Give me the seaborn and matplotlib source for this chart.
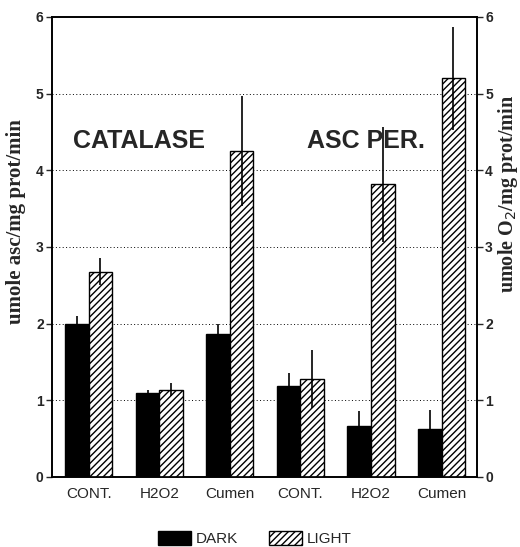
import numpy as np
import pandas as pd
import matplotlib
matplotlib.use("Agg")
import matplotlib.pyplot as plt
import seaborn as sns
from matplotlib.patches import Patch

treatments = ["CONT.", "H2O2", "Cumen", "CONT.", "H2O2", "Cumen"]
enzymes = ["CAT", "CAT", "CAT", "APX", "APX", "APX"]
dark = [2.0, 1.09, 1.86, 1.19, 0.66, 0.63]
dark_err = [0.10, 0.05, 0.13, 0.17, 0.20, 0.25]
light = [2.68, 1.14, 4.25, 1.28, 3.82, 5.20]
light_err = [0.18, 0.09, 0.72, 0.38, 0.75, 0.67]
conditions = ["DARK", "LIGHT"]
yticks = [0, 1, 2, 3, 4, 5, 6]

keys = [f"{e} {t}" for e, t in zip(enzymes, treatments)]
df = pd.DataFrame({
    "key": keys * 2,
    "cond": ["DARK"] * 6 + ["LIGHT"] * 6,
    "value": dark + light,
})

sns.set_style("white")
plt.rcParams["font.family"] = ["Liberation Sans", "DejaVu Sans"]

fig = plt.figure(figsize=(5.2, 5.47), dpi=100)
ax = fig.add_axes([0.1, 0.128, 0.817, 0.841])

sns.barplot(data=df, x="key", y="value", hue="cond", order=keys,
            hue_order=conditions, width=0.667, errorbar=None,
            palette=["black", "white"], edgecolor="black", linewidth=1.0,
            legend=False, ax=ax, zorder=3)

bar_groups = list(ax.containers[:2])
for bar in bar_groups[1]:
    bar.set_hatch("/////")
    bar.set_facecolor("white")

errs = [dark_err, light_err]
for i, cont in enumerate(bar_groups):
    xs = [b.get_x() + b.get_width() / 2 for b in cont]
    hs = [b.get_height() for b in cont]
    if i == 0:
        yerr = [np.zeros(len(hs)), errs[i]]
    else:
        yerr = errs[i]
    ax.errorbar(xs, hs, yerr=yerr, fmt="none", ecolor="black",
                elinewidth=1.2, capsize=0, zorder=4)

ax.set_xlim(-0.52, 5.5)
ax.set_ylim(0, 6)
ax.set_yticks(yticks)
ax.set_yticklabels([str(t) for t in yticks], fontweight="bold", fontsize=10)
ax.set_xticks(range(len(treatments)))
ax.set_xticklabels(treatments, fontsize=11)
ax.set_xlabel("")
ax.set_ylabel("")
ax.tick_params(axis="x", length=0, pad=7)
ax.tick_params(axis="y", direction="out", length=4, width=1, pad=2, left=True)

for t in [1, 2, 3, 4, 5]:
    ax.axhline(t, color="black", lw=0.7, ls=(0, (1, 2.5)), zorder=1)

for s in ax.spines.values():
    s.set_color("black")
    s.set_linewidth(1.2)

ax2 = ax.twinx()
ax2.set_ylim(0, 6)
ax2.set_yticks(yticks)
ax2.set_yticklabels([str(t) for t in yticks], fontweight="bold", fontsize=10)
ax2.tick_params(axis="y", direction="out", length=4, width=1, pad=2)
for s in ax2.spines.values():
    s.set_color("black")
    s.set_linewidth(1.2)

ax.text(-0.22, 4.38, "CATALASE", fontsize=18, fontweight="bold",
        ha="left", va="center", zorder=5)
ax.text(3.09, 4.38, "ASC PER.", fontsize=18, fontweight="bold",
        ha="left", va="center", zorder=5)

fig.text(0.03, 0.595, "umole asc/mg prot/min", rotation=90, ha="center",
         va="center", fontsize=15, fontweight="bold",
         family=["Liberation Serif", "DejaVu Serif"])
fig.text(0.976, 0.645, "umole O$_2$/mg prot/min", rotation=90, ha="center",
         va="center", fontsize=14.5, fontweight="bold",
         family=["Liberation Serif", "DejaVu Serif"])

handles = [Patch(facecolor="black", edgecolor="black"),
           Patch(facecolor="white", edgecolor="black", hatch="/////")]
fig.legend(handles, conditions, loc="center", bbox_to_anchor=(0.49, 0.015),
           ncol=2, frameon=False, fontsize=11, handlelength=2.2,
           handleheight=1.0, handletextpad=0.3, columnspacing=2.0)

fig.savefig("out.png", dpi=100)
